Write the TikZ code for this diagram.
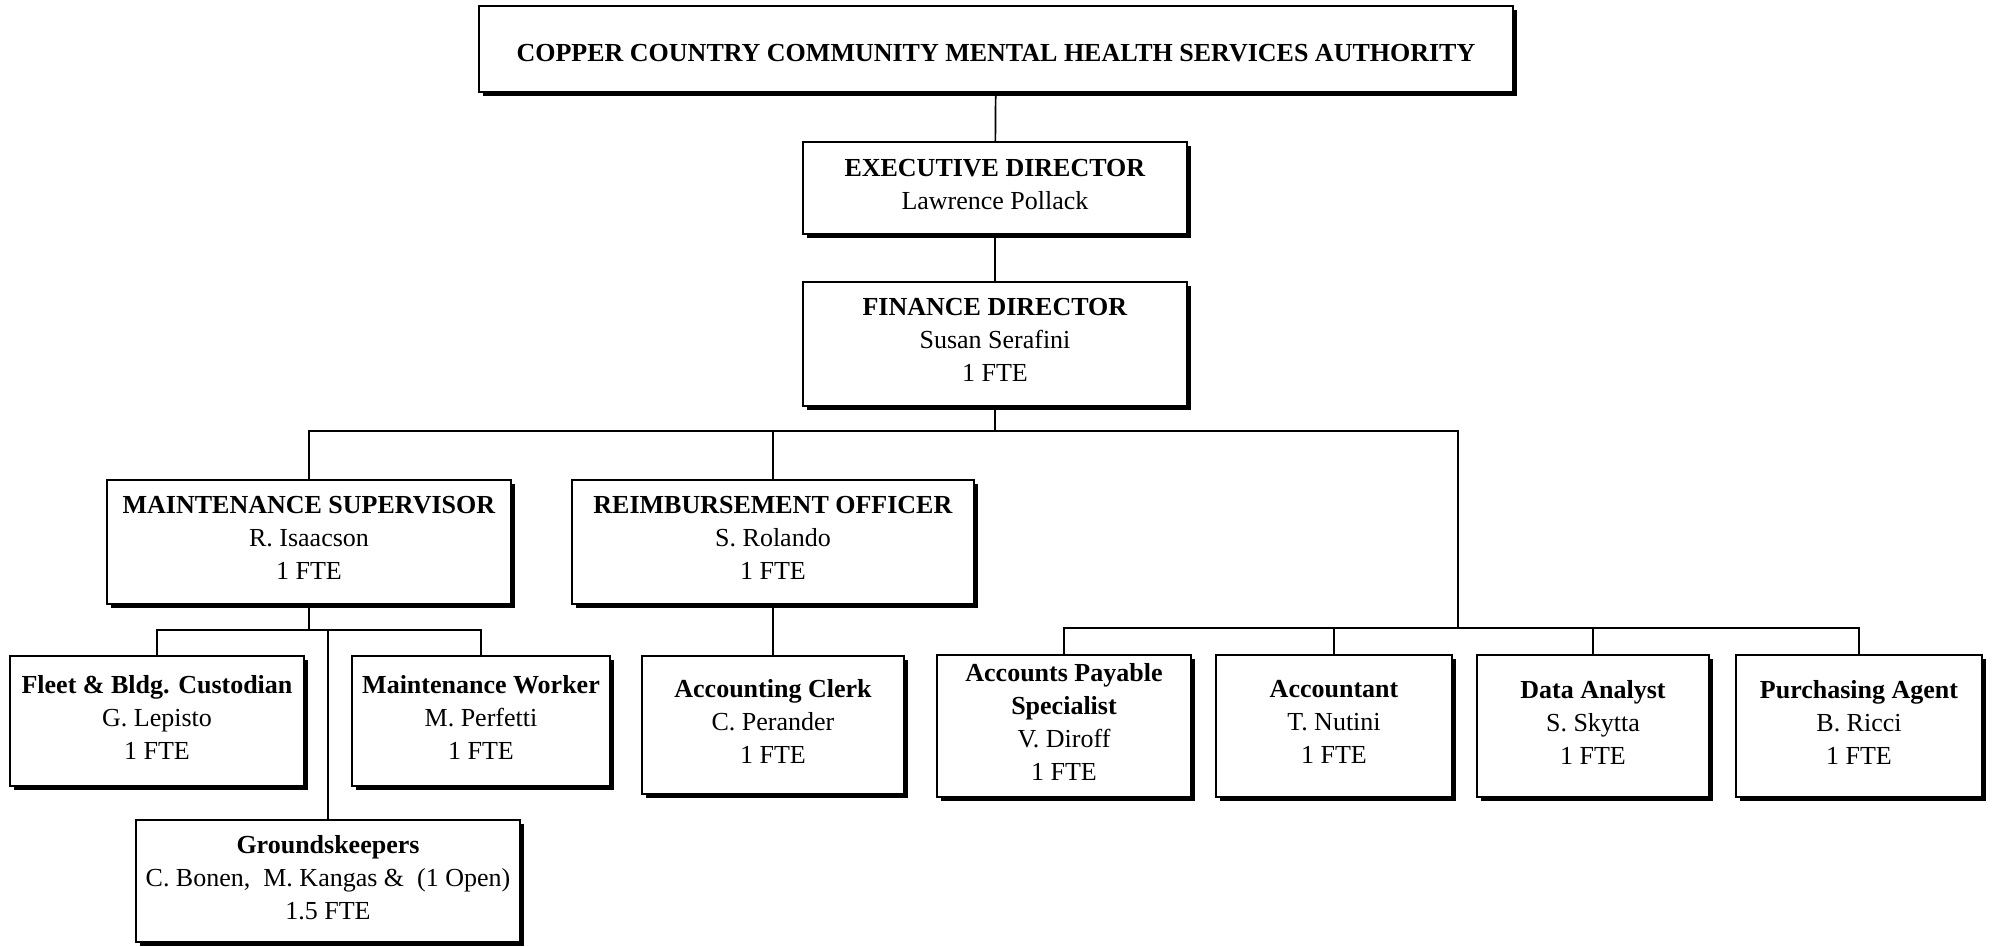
\documentclass[tikz,border=0pt]{standalone}
\usepackage{fontspec}
\setmainfont{Liberation Serif}
\usetikzlibrary{shadows}

\begin{document}
\begin{tikzpicture}[x=0.5pt,y=-0.5pt,
  unit/.style={draw,line width=1pt,fill=white,align=center,inner sep=0pt,
    font=\fontsize{13}{16.5}\selectfont,
    execute at end node={\rule[-4pt]{0pt}{0pt}},
    drop shadow={shadow xshift=2pt,shadow yshift=-2pt,fill=black,opacity=1}},
  link/.style={line width=0.85pt}]
  \useasboundingbox (0,0) rectangle (1993,947);
  % top of the chart
  \node[unit,minimum width=517pt,minimum height=43pt] (auth) at (996,49)
    {\raisebox{-4pt}[\height][\depth]{\textbf{COPPER COUNTRY COMMUNITY MENTAL HEALTH SERVICES AUTHORITY}}};
  \node[unit,minimum width=192pt,minimum height=46pt] (exec) at (995,188)
    {\textbf{EXECUTIVE DIRECTOR}\\Lawrence Pollack};
  \node[unit,minimum width=192pt,minimum height=62pt] (fin) at (995,344)
    {\textbf{FINANCE DIRECTOR}\\Susan Serafini\\1 FTE};
  % second row
  \node[unit,minimum width=202pt,minimum height=62pt] (maint) at (309,542)
    {\textbf{MAINTENANCE SUPERVISOR}\\R. Isaacson\\1 FTE};
  \node[unit,minimum width=201pt,minimum height=62pt] (reimb) at (773,542)
    {\textbf{REIMBURSEMENT OFFICER}\\S. Rolando\\1 FTE};
  % maintenance staff
  \node[unit,minimum width=147pt,minimum height=65pt] (fleet) at (157,721)
    {\textbf{Fleet \& Bldg. Custodian}\\G. Lepisto\\1 FTE};
  \node[unit,minimum width=129pt,minimum height=65pt] (mworker) at (481,721)
    {\textbf{Maintenance Worker}\\M. Perfetti\\1 FTE};
  \node[unit,minimum width=192pt,minimum height=61pt] (ground) at (328,881)
    {\textbf{Groundskeepers}\\C. Bonen,\ \ M. Kangas \&\ \ (1 Open)\\1.5 FTE};
  % finance staff
  \node[unit,minimum width=131pt,minimum height=69pt] (clerk) at (773,725)
    {\textbf{Accounting Clerk}\\C. Perander\\1 FTE};
  \node[unit,minimum width=127pt,minimum height=71pt] (aps) at (1064,726)
    {\textbf{Accounts Payable}\\\textbf{Specialist}\\V. Diroff\\1 FTE};
  \node[unit,minimum width=118pt,minimum height=71pt] (acct) at (1334,726)
    {\textbf{Accountant}\\T. Nutini\\1 FTE};
  \node[unit,minimum width=116pt,minimum height=71pt] (data) at (1593,726)
    {\textbf{Data Analyst}\\S. Skytta\\1 FTE};
  \node[unit,minimum width=123pt,minimum height=71pt] (purch) at (1859,726)
    {\textbf{Purchasing Agent}\\B. Ricci\\1 FTE};

  \coordinate (topbus) at (995,431);
  \coordinate (rbus) at (1458,628);
  \coordinate (mbus) at (309,630);

  \draw[link] (auth) -- (exec);
  \draw[link] (exec) -- (fin);
  \draw[link] (fin.south) -- (topbus) -| (maint.north);
  \draw[link] (topbus) -| (reimb.north);
  \draw[link] (topbus) -| (rbus);
  \draw[link] (reimb) -- (clerk);
  \draw[link] (maint.south) -- (mbus);
  \draw[link] (fleet.north) |- (mbus) -| (mworker.north);
  \draw[link] (ground.north) -- (ground.north |- mbus);
  \draw[link] (aps.north) |- (rbus) -| (purch.north);
  \draw[link] (acct.north) -- (acct.north |- rbus);
  \draw[link] (data.north) -- (data.north |- rbus);
\end{tikzpicture}
\end{document}
